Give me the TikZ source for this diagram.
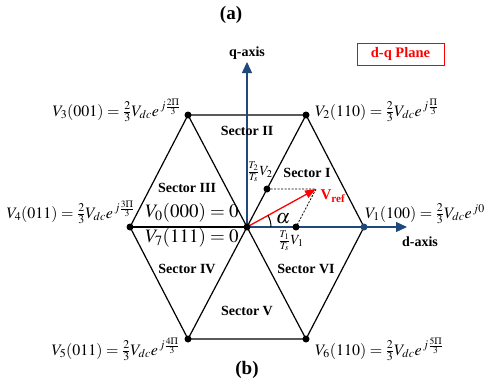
\documentclass[tikz,border=0pt]{standalone}
\usepackage{mathptmx}
\usepackage[no-math]{fontspec}
\setmainfont{Liberation Serif}
\usetikzlibrary{arrows.meta,calc}
\definecolor{axblue}{RGB}{31,73,125}
\newcommand{\pv}[3]{$V_{#1}(#2)=\frac{2}{3}V_{dc}e^{\,j\frac{#3}{3}}$}
\begin{document}
\begin{tikzpicture}[x=1pt,y=-1pt,
  hexline/.style={line width=1.2pt,black},
  axis/.style={line width=1.2pt,axblue,-{Triangle[length=11pt,width=10pt]}},
  dotb/.style={circle,fill=black,inner sep=0pt,minimum size=7pt},
  sect/.style={font=\fontsize{14}{16}\selectfont\bfseries,inner sep=0pt},
  vlab/.style={font=\fontsize{16}{18}\selectfont,inner sep=0pt},
  zlab/.style={font=\fontsize{19}{21}\selectfont,inner sep=0pt},
  title/.style={font=\fontsize{19}{21}\selectfont\bfseries,inner sep=0pt}]
\useasboundingbox (0,0) rectangle (492,383);
\coordinate (O) at (247,227);
\coordinate (V1) at (364,227);
\coordinate (V2) at (306,115);
\coordinate (V3) at (188,115);
\coordinate (V4) at (130,227);
\coordinate (V5) at (188,339);
\coordinate (V6) at (306,339);
\coordinate (dend) at (407,227);
\coordinate (qend) at (247,62);
\coordinate (R) at (316,189);
% hexagon and diagonals
\draw[hexline,line join=round] (V1)--(V2)--(V3)--(V4)--(V5)--(V6)--cycle;
\draw[hexline] (V4)--(V1);
\draw[hexline] (V2)--(V5);
\draw[hexline] (V3)--(V6);
% axes
\draw[axis] (O)--(dend);
\draw[axis] (O)--(qend);
% component points
\node[dotb] (P2) at (267,189) {};
\node[dotb] (P1) at (296,227) {};
\draw[black,line width=0.8pt,dash pattern=on 2pt off 1.5pt] (P2.center)--(R)--(P1.center);
% Vref
\draw[red,line width=1.3pt,-{Triangle[length=11pt,width=8pt]}] (O)--(R);
% angle arc
\draw[black,line width=1pt] ($(O)+(24,0)$) arc[start angle=0,end angle=-29,radius=24];
% vertex dots
\foreach \v in {V2,V3,V4,V5,V6} \node[dotb] (d\v) at (\v) {};
\node[dotb,fill=axblue] (dV1) at (V1) {};
\node[dotb] (dO) at (O) {};
% axis labels
\node[font=\fontsize{14}{16}\selectfont\bfseries,inner sep=0pt] (qlab) at (247,53) {q-axis};
\node[font=\fontsize{14}{16}\selectfont\bfseries,inner sep=0pt] (dlab) at (420,242) {d-axis};
% plane box
\node[draw=red,line width=0.9pt,text=red,font=\fontsize{14.5}{16}\selectfont\bfseries,minimum width=87pt,minimum height=22pt,inner sep=0pt] (plane) at (400.5,54) {d-q Plane};
% titles
\node[title] (ta) at (231,15) {(a)};
\node[title] (tb) at (247,370) {(b)};
% sectors
\node[sect] (s1) at (307,173) {Sector I};
\node[sect] (s2) at (247,131) {Sector II};
\node[sect] (s3) at (187,188) {Sector III};
\node[sect] (s4) at (187,269) {Sector IV};
\node[sect] (s5) at (247,311) {Sector V};
\node[sect] (s6) at (306,269) {Sector VI};
% zero vectors
\node[zlab] (z0) at (192,213) {$V_0(000)=0$};
\node[zlab] (z7) at (192,238) {$V_7(111)=0$};
% vertex labels
\node[vlab,anchor=base west] (l1) at (365,218) {$V_1(100)=\frac{2}{3}V_{dc}e^{\,j0}$};
\node[vlab,anchor=base west] (l2) at (315,116) {\pv{2}{110}{\Pi}};
\node[vlab,anchor=base east] (l3) at (181,116) {\pv{3}{001}{2\Pi}};
\node[vlab,anchor=base east] (l4) at (135,218) {\pv{4}{011}{3\Pi}};
\node[vlab,anchor=base east] (l5) at (180,355) {\pv{5}{011}{4\Pi}};
\node[vlab,anchor=base west] (l6) at (315,355) {\pv{6}{110}{5\Pi}};
% component labels
\node[font=\fontsize{14}{16}\selectfont,inner sep=0pt] (c2) at (260,172) {$\frac{T_2}{T_s}V_2$};
\node[font=\fontsize{14}{16}\selectfont,inner sep=0pt] (c1) at (291,241) {$\frac{T_1}{T_s}V_1$};
\node[text=red,font=\fontsize{15}{17}\selectfont\bfseries,inner sep=0pt] (vr) at (333,196) {V\textsubscript{ref}};
\node[font=\fontsize{20}{22}\selectfont,inner sep=0pt] (al) at (283,219) {$\alpha$};
\end{tikzpicture}
\end{document}
